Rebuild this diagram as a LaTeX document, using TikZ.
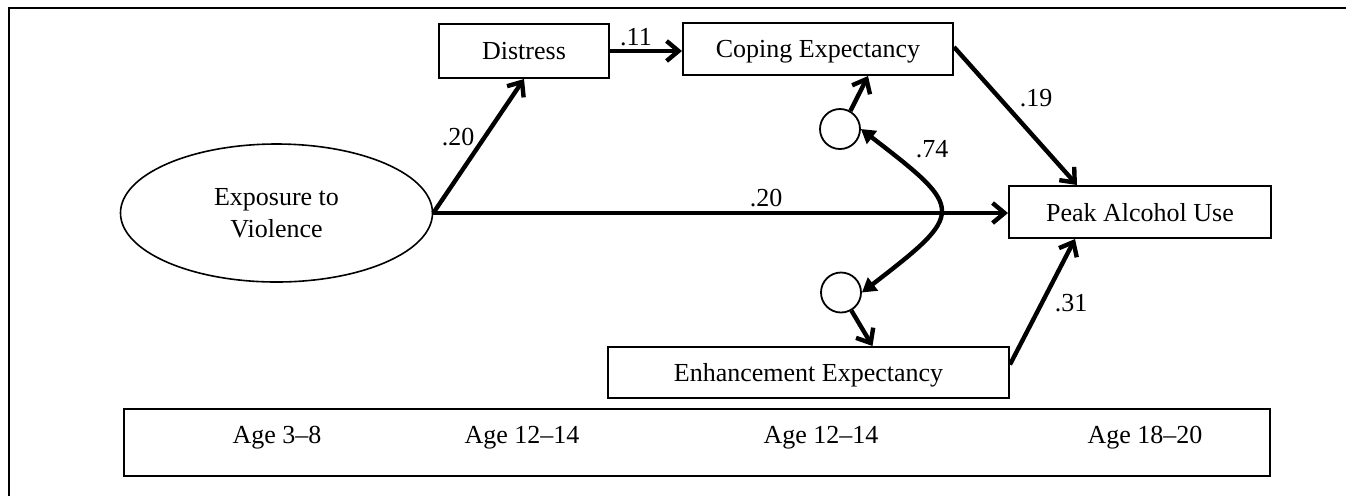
\documentclass[tikz,border=0pt]{standalone}
\usepackage{fontspec}
\setmainfont{Liberation Serif}
\usetikzlibrary{arrows.meta,calc,shapes.geometric}

\begin{document}
\begin{tikzpicture}[x=0.5pt, y=-0.5pt, >={Straight Barb[length=6pt,width=10pt]},
		every node/.style={font=\fontsize{13}{16}\selectfont},
		box/.style={draw, line width=1pt, inner sep=0pt, text depth=0pt, minimum height=26pt},
		latent/.style={draw, ellipse, line width=0.8pt, align=center, inner sep=0pt, minimum width=156pt, minimum height=69pt},
		resid/.style={draw, circle, line width=0.9pt, inner sep=0pt, minimum size=20pt},
		effect/.style={->, line width=2.2pt},
		coef/.style={inner sep=1pt}]
	\useasboundingbox (0,0) rectangle (1346,495);
	
	% 1. outer frame (only top and left edges inside the page)
	\draw[line width=1.3pt] (1400,8) -- (9,8) -- (9,560);
	
	% 2. variables
	\node[latent] (expo) at (276.5,213) {Exposure to\\Violence};
	\node[box, minimum width=85pt, minimum height=27pt] (distress) at (524,51) {Distress};
	\node[box, minimum width=135pt] (coping) at (818,49) {Coping Expectancy};
	\node[box, minimum width=131pt] (peak) at (1140,212) {Peak Alcohol Use};
	\node[box, minimum width=200.5pt, minimum height=25.5pt] (enhance) at (808.5,372.5) {Enhancement Expectancy};
	
	% residuals
	\node[resid] (e1) at (840,129) {};
	\node[resid] (e2) at (841,292.5) {};
	
	% 3. age strip
	\node[box, minimum width=573pt, minimum height=33.5pt] (ages) at (697,442.5) {};
	\node (age1) at (277,438) {Age 3--8};
	\node (age2) at (522,438) {Age 12--14};
	\node (age3) at (821,438) {Age 12--14};
	\node (age4) at (1145,438) {Age 18--20};
	
	% 4. paths
	\draw[effect] (expo.east) -- (distress.south);
	\draw[effect] (distress.east) -- (distress.east -| coping.west);
	\draw[effect] (expo.east) -- (expo.east -| peak.west);
	\draw[effect] ($(coping.east)+(0,-2)$) -- ($(peak.north)+(-63,0)$);
	\draw[effect] ($(enhance.east)+(0,-8)$) -- ($(peak.south)+(-65,0)$);
	\draw[effect] (e1.60) -- ($(coping.south)+(50,0)$);
	\draw[effect] (e2.-60) -- ($(enhance.north)+(64,0)$);
	
	% residual correlation
	\draw[line width=2.2pt, {Triangle[length=7pt,width=8pt]}-{Triangle[length=7pt,width=8pt]}]
		(e1.east) .. controls +(104,80) and +(104,-80) .. (e2.east);
	
	% 5. coefficients
	\node[coef] (b1) at (458,137) {.20};
	\node[coef] (b2) at (636,37) {.11};
	\node[coef] (b3) at (766,198) {.20};
	\node[coef] (b4) at (932,149) {.74};
	\node[coef] (b5) at (1036,98) {.19};
	\node[coef] (b6) at (1071,303) {.31};
\end{tikzpicture}
\end{document}
